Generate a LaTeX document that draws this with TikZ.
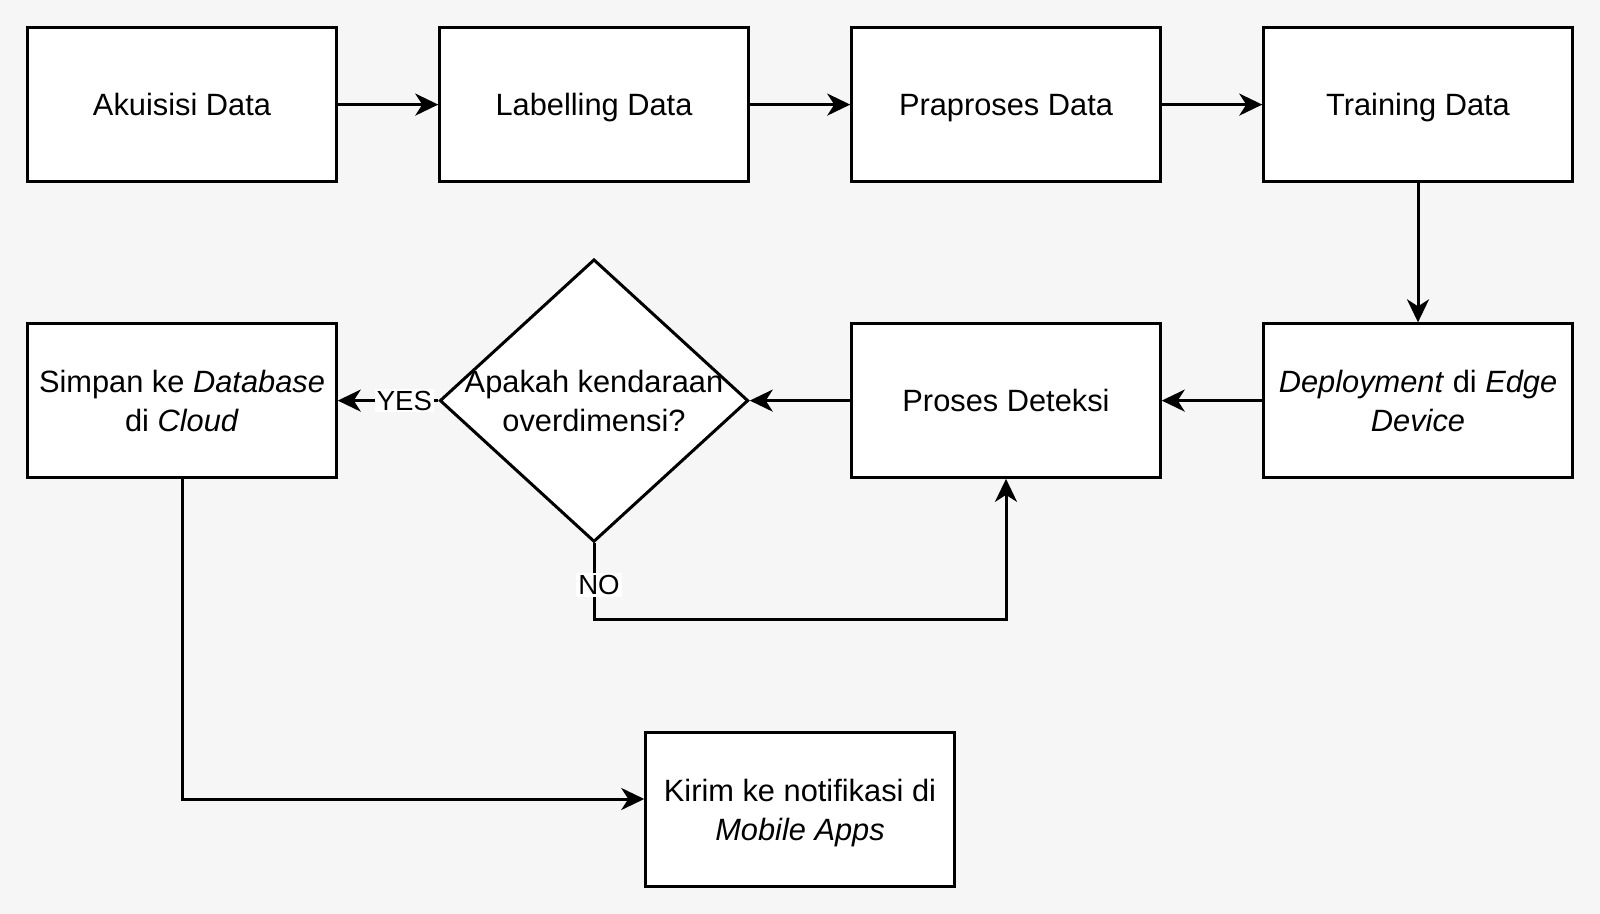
\documentclass[tikz,border=0pt]{standalone}
\usepackage{fontspec}
\setmainfont{Liberation Sans}
\usetikzlibrary{shapes.geometric,arrows.meta}

\begin{document}
\begin{tikzpicture}[x=0.5pt,y=0.5pt,yscale=-1,xscale=1,
		kotak/.style={draw,line width=1.5pt,fill=white,minimum width=154.25pt,minimum height=76.75pt,inner sep=0pt,align=center,font=\fontsize{15.4}{19.4}\selectfont},
		satu/.style={kotak,text height=11.2pt,text depth=0pt},
		belah/.style={diamond,draw,line width=1.5pt,fill=white,minimum width=154.25pt,minimum height=141.3pt,inner sep=0pt},
		panah/.style={line width=1.5pt,-{Stealth[length=11.5pt,width=11pt,inset=3.5pt]}},
		ket/.style={fill=white,inner sep=1pt,font=\fontsize{13.8}{16}\selectfont}]
		%Background
		\fill [fill={rgb, 255:red, 246; green, 246; blue, 246}] (0,0) rectangle (1600,914) ;
		\useasboundingbox (0,0) rectangle (1600,914) ;
		
		%Top row
		\node [satu] (akuisisi) at (182,104.6) {Akuisisi Data};
		\node [satu] (labelling) at (594,104.6) {Labelling Data};
		\node [satu] (praproses) at (1006,104.6) {Praproses Data};
		\node [satu] (training) at (1418,104.6) {Training Data};
		
		%Middle row
		\node [kotak] (deploy) at (1418,400.6) {\textit{Deployment} di \textit{Edge}\\\textit{Device}};
		\node [satu] (deteksi) at (1006,400.6) {Proses Deteksi};
		\node [belah,label={[align=center,font=\fontsize{15.4}{19.4}\selectfont]center:{Apakah kendaraan\\overdimensi?}}] (cek) at (594,400.6) {};
		\node [kotak] (simpan) at (182,400.6) {Simpan ke \textit{Database}\\di \textit{Cloud}};
		
		%Bottom
		\node [kotak] (kirim) at (800,809.5) {Kirim ke notifikasi di\\\raisebox{0pt}[\height][0pt]{\textit{Mobile Apps}}};
		
		%Straight Lines
		\draw [panah] (akuisisi) -- (labelling) ;
		\draw [panah] (labelling) -- (praproses) ;
		\draw [panah] (praproses) -- (training) ;
		\draw [panah] (training) -- (deploy) ;
		\draw [panah] (deploy) -- (deteksi) ;
		\draw [panah] (deteksi) -- (cek) ;
		\draw [panah] (cek) -- node [ket,pos=0.337] {YES} (simpan) ;
		
		%Elbow Lines
		\draw [panah] (cek.south) -- node [ket,pos=0.55,xshift=2.5pt] {NO} ++(0,76) -| (deteksi.south) ;
		\draw [panah] (simpan.south) |- ([yshift=-5.25pt]kirim.west) ;
		
\end{tikzpicture}
\end{document}
